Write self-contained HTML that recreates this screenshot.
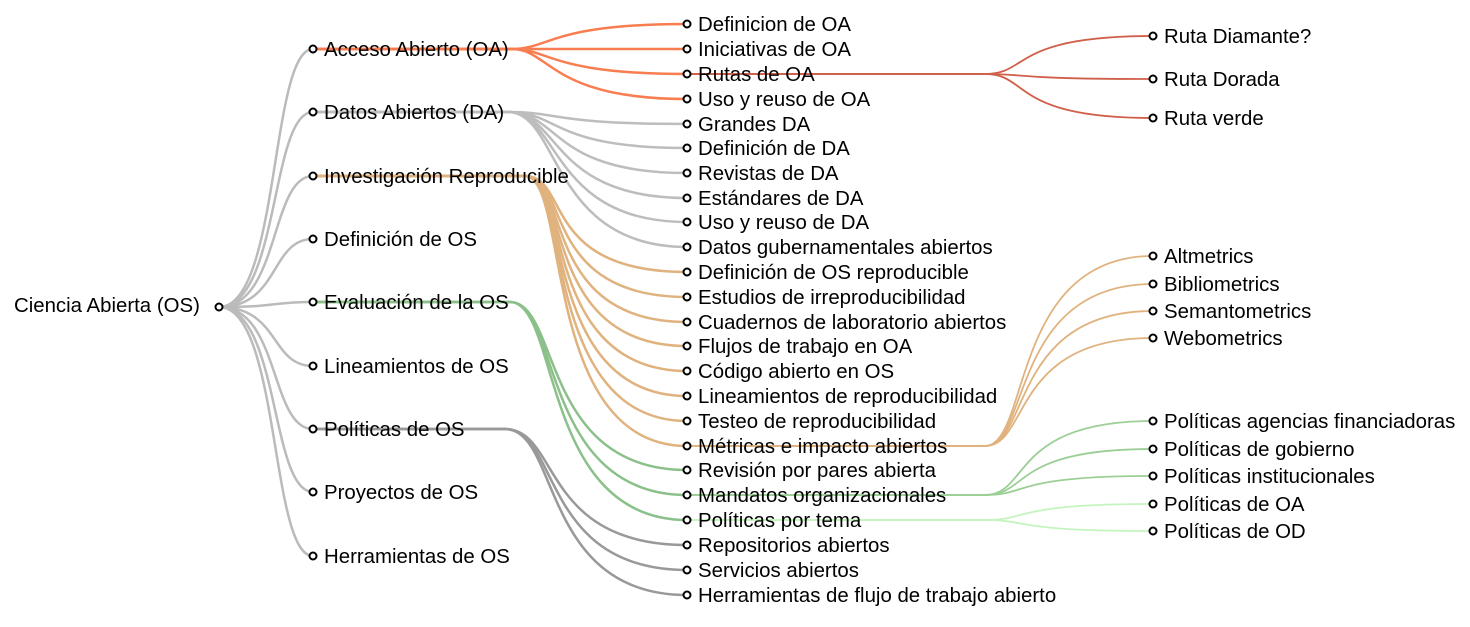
<!DOCTYPE html>
<html><head><meta charset="utf-8"><style>
html,body{margin:0;padding:0;background:#fff;width:1470px;height:627px;overflow:hidden}
text{font-family:"Liberation Sans",Arial,sans-serif;font-size:20.4px;fill:#000}
path{fill:none}
circle{fill:#fff;stroke:#000;stroke-width:2}
</style></head><body>
<svg width="1470" height="627" xmlns="http://www.w3.org/2000/svg">
<g stroke="#bbb" stroke-width="2.5">
<path d="M219,307 C280,307 270,49 313,49"/>
<path d="M219,307 C280,307 270,112 313,112"/>
<path d="M219,307 C280,307 270,176 313,176"/>
<path d="M219,307 C280,307 270,239 313,239"/>
<path d="M219,307 C280,307 270,302 313,302"/>
<path d="M219,307 C280,307 270,366 313,366"/>
<path d="M219,307 C280,307 270,429 313,429"/>
<path d="M219,307 C280,307 270,492 313,492"/>
<path d="M219,307 C280,307 270,556 313,556"/>
</g>
<g stroke="#f87d50" stroke-width="2.5">
<path d="M313,49 H512 C550,49 550,24 687,24"/>
<path d="M313,49 H512 C550,49 550,49 687,49"/>
<path d="M313,49 H512 C550,49 550,74 687,74"/>
<path d="M313,49 H512 C550,49 550,99 687,99"/>
</g>
<g stroke="#bdbdbd" stroke-width="2.5">
<path d="M313,112 H508 C560,112 550,124 687,124"/>
<path d="M313,112 H508 C560,112 550,148 687,148"/>
<path d="M313,112 H508 C560,112 550,173 687,173"/>
<path d="M313,112 H508 C560,112 550,198 687,198"/>
<path d="M313,112 H508 C560,112 550,222 687,222"/>
<path d="M313,112 H508 C560,112 550,247 687,247"/>
</g>
<g stroke="#e0b27e" stroke-width="2.5">
<path d="M313,176 H525 C570,176 540,272 687,272"/>
<path d="M313,176 H525 C570,176 540,297 687,297"/>
<path d="M313,176 H525 C570,176 540,322 687,322"/>
<path d="M313,176 H525 C570,176 540,346 687,346"/>
<path d="M313,176 H525 C570,176 540,371 687,371"/>
<path d="M313,176 H525 C570,176 540,396 687,396"/>
<path d="M313,176 H525 C570,176 540,421 687,421"/>
<path d="M313,176 H525 C570,176 540,446 687,446"/>
</g>
<g stroke="#8cc08a" stroke-width="2.5">
<path d="M313,302 H510 C560,302 540,470 687,470"/>
<path d="M313,302 H510 C560,302 540,495 687,495"/>
<path d="M313,302 H510 C560,302 540,520 687,520"/>
</g>
<g stroke="#999" stroke-width="2.5">
<path d="M313,429 H505 C560,429 540,545 687,545"/>
<path d="M313,429 H505 C560,429 540,570 687,570"/>
<path d="M313,429 H505 C560,429 540,595 687,595"/>
</g>
<g stroke="#d0604a" stroke-width="1.8">
<path d="M687,74 H985 C1030,74 1010,36 1153,36"/>
<path d="M687,74 H985 C1030,74 1010,79 1153,79"/>
<path d="M687,74 H985 C1030,74 1010,118 1153,118"/>
</g>
<g stroke="#e0b27e" stroke-width="1.8">
<path d="M687,446 H985 C1030,446 1010,256 1153,256"/>
<path d="M687,446 H985 C1030,446 1010,284 1153,284"/>
<path d="M687,446 H985 C1030,446 1010,311 1153,311"/>
<path d="M687,446 H985 C1030,446 1010,338 1153,338"/>
</g>
<g stroke="#9ccf96" stroke-width="1.8">
<path d="M687,495 H985 C1030,495 1010,421 1153,421"/>
<path d="M687,495 H985 C1030,495 1010,449 1153,449"/>
<path d="M687,495 H985 C1030,495 1010,476 1153,476"/>
</g>
<g stroke="#c5f5bf" stroke-width="1.8">
<path d="M687,520 H985 C1030,520 1010,504 1153,504"/>
<path d="M687,520 H985 C1030,520 1010,531 1153,531"/>
</g>
<circle cx="219" cy="307" r="3.5"/>
<text x="14" y="312">Ciencia Abierta (OS)</text>
<g>
<circle cx="313" cy="49" r="3.5"/><text x="324" y="56">Acceso Abierto (OA)</text>
<circle cx="313" cy="112" r="3.5"/><text x="324" y="119">Datos Abiertos (DA)</text>
<circle cx="313" cy="176" r="3.5"/><text x="324" y="183">Investigación Reproducible</text>
<circle cx="313" cy="239" r="3.5"/><text x="324" y="246">Definición de OS</text>
<circle cx="313" cy="302" r="3.5"/><text x="324" y="309">Evaluación de la OS</text>
<circle cx="313" cy="366" r="3.5"/><text x="324" y="373">Lineamientos de OS</text>
<circle cx="313" cy="429" r="3.5"/><text x="324" y="436">Políticas de OS</text>
<circle cx="313" cy="492" r="3.5"/><text x="324" y="499">Proyectos de OS</text>
<circle cx="313" cy="556" r="3.5"/><text x="324" y="563">Herramientas de OS</text>
</g>
<g>
<circle cx="687" cy="24" r="3.5"/><text x="698" y="31">Definicion de OA</text>
<circle cx="687" cy="49" r="3.5"/><text x="698" y="56">Iniciativas de OA</text>
<circle cx="687" cy="74" r="3.5"/><text x="698" y="81">Rutas de OA</text>
<circle cx="687" cy="99" r="3.5"/><text x="698" y="106">Uso y reuso de OA</text>
<circle cx="687" cy="124" r="3.5"/><text x="698" y="131">Grandes DA</text>
<circle cx="687" cy="148" r="3.5"/><text x="698" y="155">Definición de DA</text>
<circle cx="687" cy="173" r="3.5"/><text x="698" y="180">Revistas de DA</text>
<circle cx="687" cy="198" r="3.5"/><text x="698" y="205">Estándares de DA</text>
<circle cx="687" cy="222" r="3.5"/><text x="698" y="229">Uso y reuso de DA</text>
<circle cx="687" cy="247" r="3.5"/><text x="698" y="254">Datos gubernamentales abiertos</text>
<circle cx="687" cy="272" r="3.5"/><text x="698" y="279">Definición de OS reproducible</text>
<circle cx="687" cy="297" r="3.5"/><text x="698" y="304">Estudios de irreproducibilidad</text>
<circle cx="687" cy="322" r="3.5"/><text x="698" y="329">Cuadernos de laboratorio abiertos</text>
<circle cx="687" cy="346" r="3.5"/><text x="698" y="353">Flujos de trabajo en OA</text>
<circle cx="687" cy="371" r="3.5"/><text x="698" y="378">Código abierto en OS</text>
<circle cx="687" cy="396" r="3.5"/><text x="698" y="403">Lineamientos de reproducibilidad</text>
<circle cx="687" cy="421" r="3.5"/><text x="698" y="428">Testeo de reproducibilidad</text>
<circle cx="687" cy="446" r="3.5"/><text x="698" y="453">Métricas e impacto abiertos</text>
<circle cx="687" cy="470" r="3.5"/><text x="698" y="477">Revisión por pares abierta</text>
<circle cx="687" cy="495" r="3.5"/><text x="698" y="502">Mandatos organizacionales</text>
<circle cx="687" cy="520" r="3.5"/><text x="698" y="527">Políticas por tema</text>
<circle cx="687" cy="545" r="3.5"/><text x="698" y="552">Repositorios abiertos</text>
<circle cx="687" cy="570" r="3.5"/><text x="698" y="577">Servicios abiertos</text>
<circle cx="687" cy="595" r="3.5"/><text x="698" y="602">Herramientas de flujo de trabajo abierto</text>
</g>
<g>
<circle cx="1153" cy="36" r="3.5"/><text x="1164" y="43">Ruta Diamante?</text>
<circle cx="1153" cy="79" r="3.5"/><text x="1164" y="86">Ruta Dorada</text>
<circle cx="1153" cy="118" r="3.5"/><text x="1164" y="125">Ruta verde</text>
<circle cx="1153" cy="256" r="3.5"/><text x="1164" y="263">Altmetrics</text>
<circle cx="1153" cy="284" r="3.5"/><text x="1164" y="291">Bibliometrics</text>
<circle cx="1153" cy="311" r="3.5"/><text x="1164" y="318">Semantometrics</text>
<circle cx="1153" cy="338" r="3.5"/><text x="1164" y="345">Webometrics</text>
<circle cx="1153" cy="421" r="3.5"/><text x="1164" y="428">Políticas agencias financiadoras</text>
<circle cx="1153" cy="449" r="3.5"/><text x="1164" y="456">Políticas de gobierno</text>
<circle cx="1153" cy="476" r="3.5"/><text x="1164" y="483">Políticas institucionales</text>
<circle cx="1153" cy="504" r="3.5"/><text x="1164" y="511">Políticas de OA</text>
<circle cx="1153" cy="531" r="3.5"/><text x="1164" y="538">Políticas de OD</text>
</g>
</svg>
</body></html>
